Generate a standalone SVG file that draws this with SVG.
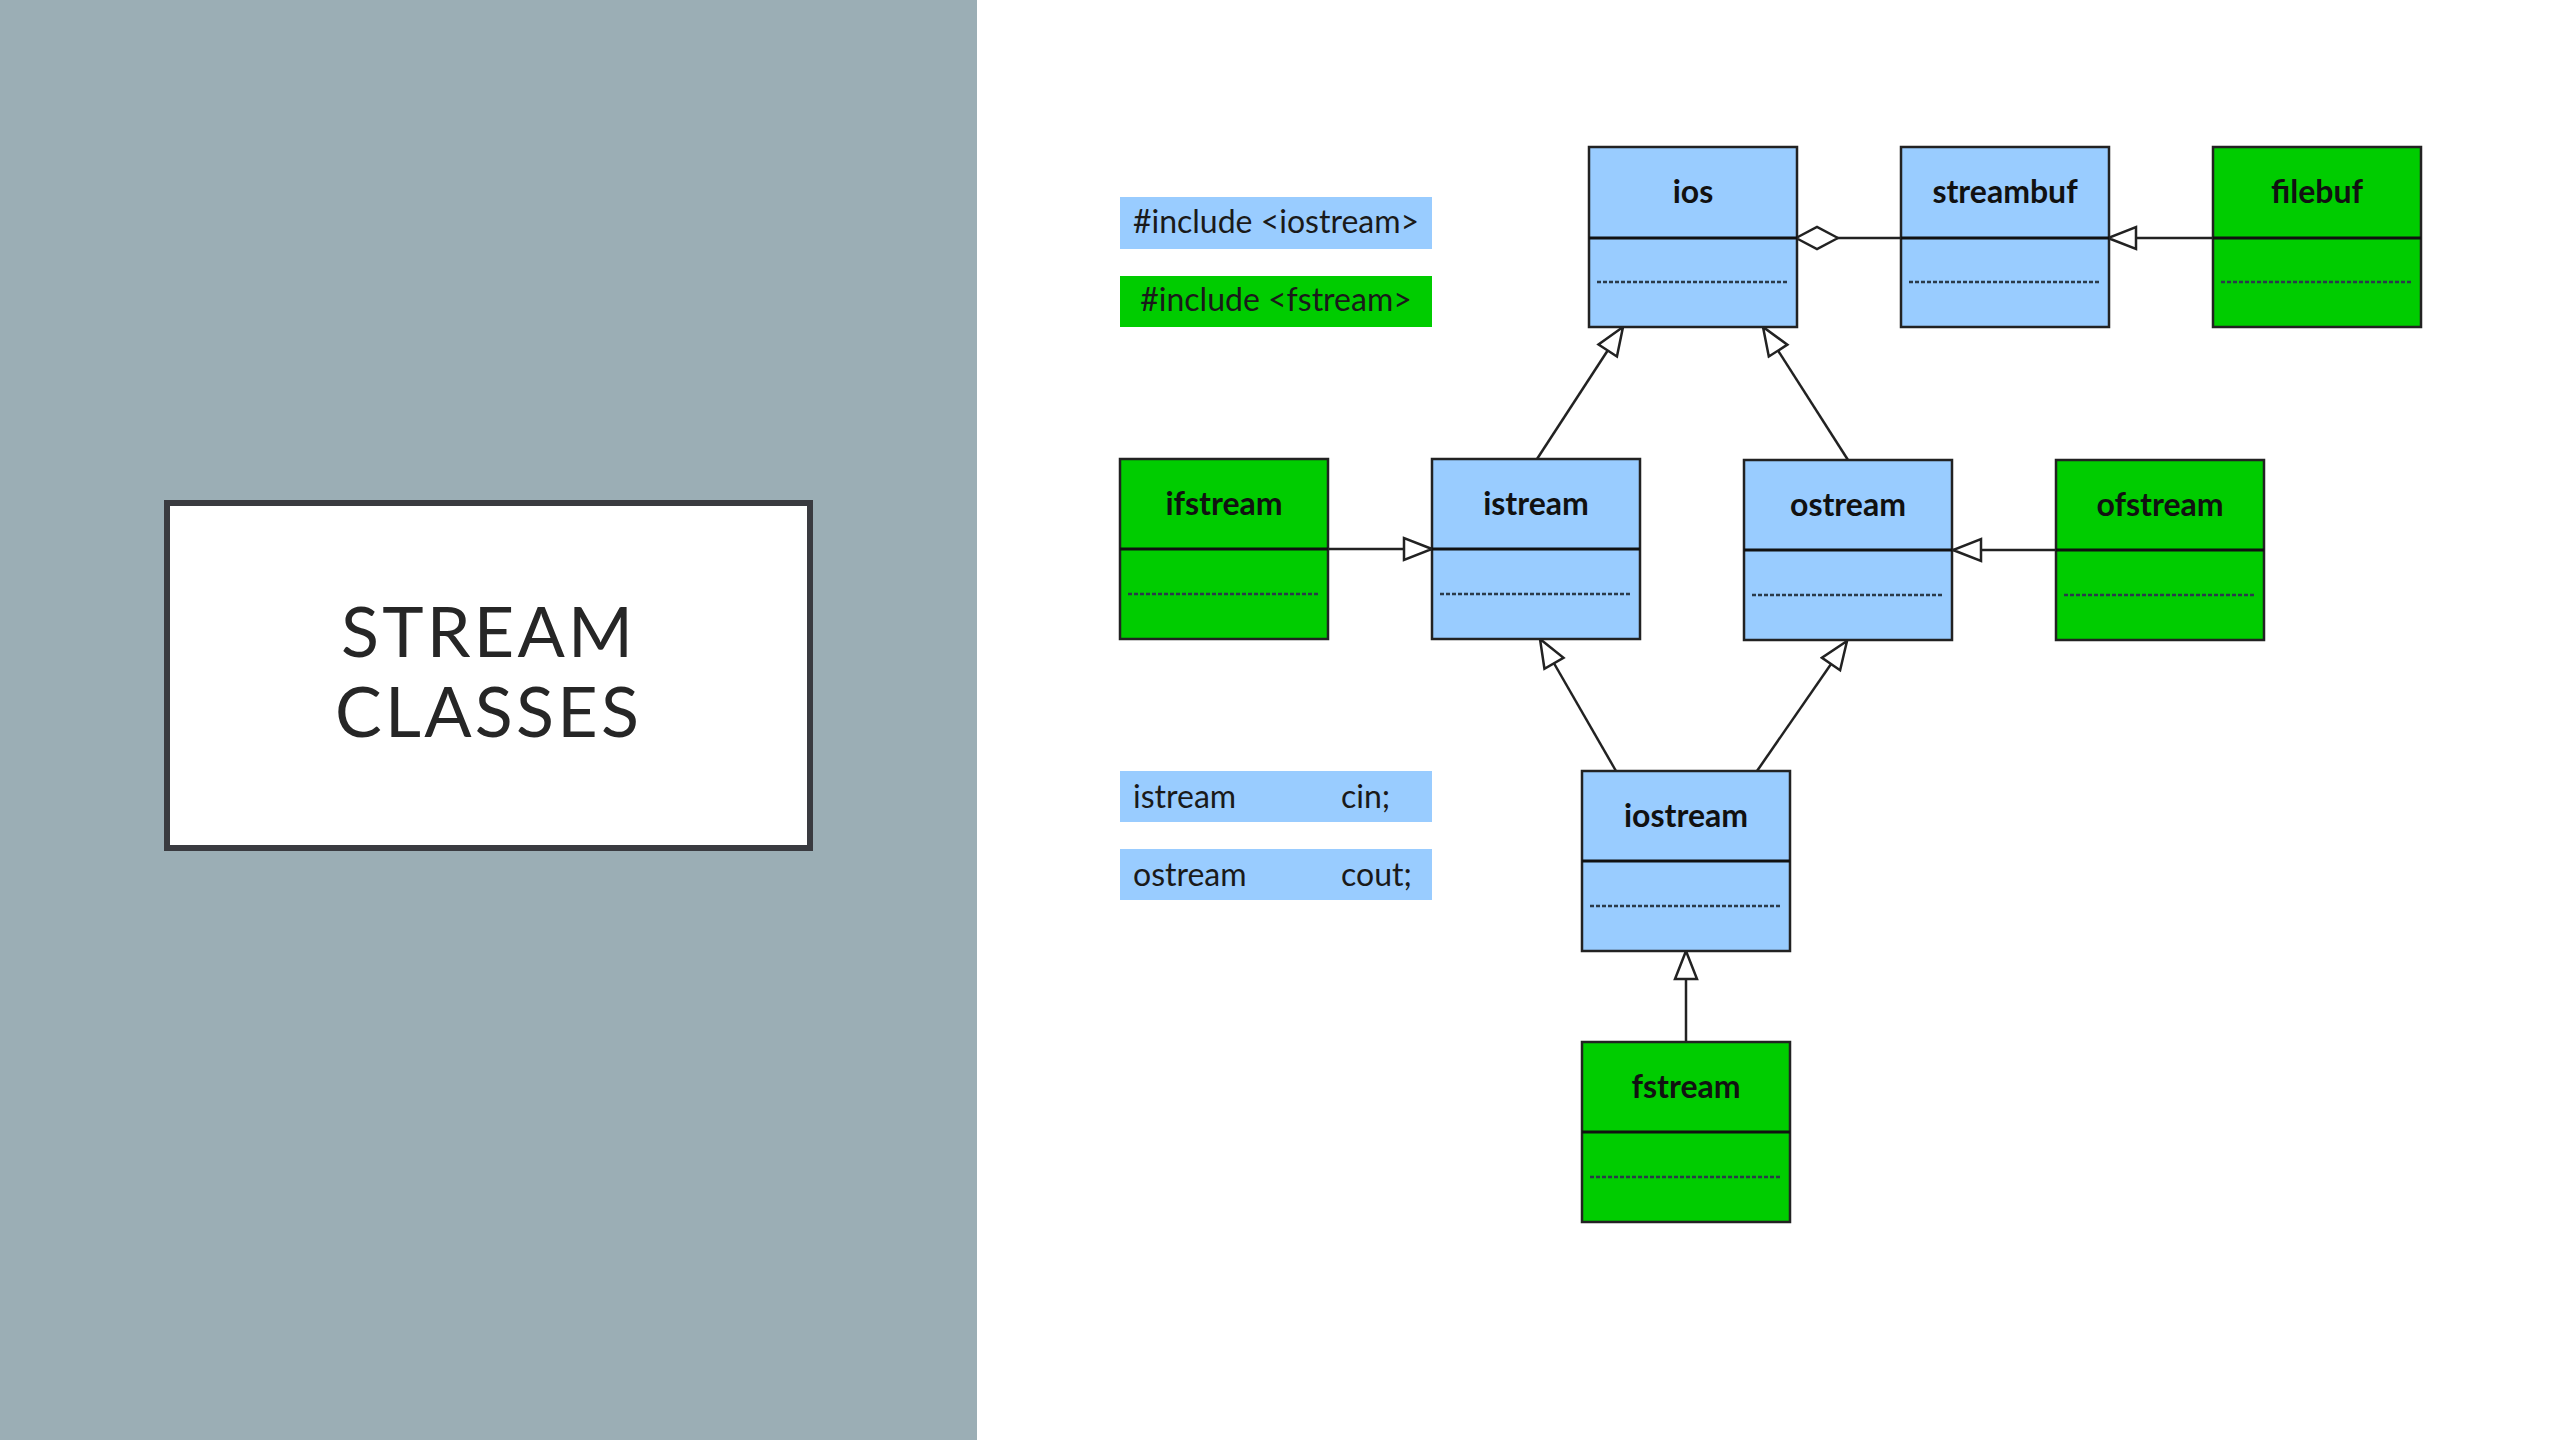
<svg xmlns="http://www.w3.org/2000/svg" width="2560" height="1440" viewBox="0 0 2560 1440">
<style>
.blue{fill:#99CCFF;stroke:#222;stroke-width:2.5}
.green{fill:#00CC00;stroke:#222;stroke-width:2.5}
.div{stroke:#111;stroke-width:3}
.dot{stroke:#2a3a4a;stroke-width:2.5;stroke-dasharray:4 2}
.lbl{font-family:Lato,"Liberation Sans",sans-serif;font-weight:bold;font-size:32px;fill:#111;text-anchor:middle}
.leg{font-family:Lato,"Liberation Sans",sans-serif;font-size:32px;fill:#1a1a1a}
.conn{stroke:#222;stroke-width:2.5;fill:none}
.title{font-family:Lato,"Open Sans","Liberation Sans",sans-serif;font-size:70px;fill:#262626;text-anchor:middle}
</style>
<defs>
<marker id="tri" viewBox="0 0 32 26" refX="30" refY="13" markerWidth="32" markerHeight="26" markerUnits="userSpaceOnUse" orient="auto">
<path d="M30,13 L2,2 L2,24 Z" fill="#fff" stroke="#222" stroke-width="2.5"/>
</marker>
<marker id="dia" viewBox="0 0 46 26" refX="2" refY="13" markerWidth="46" markerHeight="26" markerUnits="userSpaceOnUse" orient="auto">
<path d="M2,13 L23,2 L44,13 L23,24 Z" fill="#fff" stroke="#222" stroke-width="2.5"/>
</marker>
</defs>
<rect x="0" y="0" width="2560" height="1440" fill="#ffffff"/>
<rect x="0" y="0" width="977" height="1440" fill="#9BAEB5"/>
<g id="title">
<rect x="167" y="503" width="643" height="345" fill="#ffffff" stroke="#3a3b40" stroke-width="6"/>
<text class="title" x="487" y="657" textLength="292" lengthAdjust="spacing">STREAM</text>
<text class="title" x="487" y="737" textLength="304" lengthAdjust="spacing">CLASSES</text>
</g>
<g id="legend-iostream">
<rect x="1120" y="197" width="312" height="52" fill="#99CCFF"/>
<text class="leg" x="1276" y="233" text-anchor="middle">#include &lt;iostream&gt;</text>
</g>
<g id="legend-fstream">
<rect x="1120" y="276" width="312" height="51" fill="#00CC00"/>
<text class="leg" x="1276" y="311" text-anchor="middle">#include &lt;fstream&gt;</text>
</g>
<g id="legend-cin">
<rect x="1120" y="771" width="312" height="51" fill="#99CCFF"/>
<text class="leg" x="1133" y="808">istream</text>
<text class="leg" x="1341" y="808">cin;</text>
</g>
<g id="legend-cout">
<rect x="1120" y="849" width="312" height="51" fill="#99CCFF"/>
<text class="leg" x="1133" y="886">ostream</text>
<text class="leg" x="1341" y="886">cout;</text>
</g>
<g id="connectors">
<path class="conn" d="M1796,238 L1901,238" marker-start="url(#dia)"/>
<path class="conn" d="M2213,238 L2108,238" marker-end="url(#tri)"/>
<path class="conn" d="M1537,459 L1623,327" marker-end="url(#tri)"/>
<path class="conn" d="M1848,460 L1763,327" marker-end="url(#tri)"/>
<path class="conn" d="M1329,549 L1432,549" marker-end="url(#tri)"/>
<path class="conn" d="M2056,550 L1953,550" marker-end="url(#tri)"/>
<path class="conn" d="M1616,771 L1540,639" marker-end="url(#tri)"/>
<path class="conn" d="M1757,771 L1847,641" marker-end="url(#tri)"/>
<path class="conn" d="M1686,1042 L1686,951" marker-end="url(#tri)"/>
</g>
<g id="ios">
<rect class="blue" x="1589" y="147" width="208" height="180"/>
<line class="div" x1="1589" y1="238" x2="1797" y2="238"/>
<line class="dot" x1="1597" y1="282" x2="1789" y2="282"/>
<text class="lbl" x="1693" y="203">ios</text>
</g>
<g id="streambuf">
<rect class="blue" x="1901" y="147" width="208" height="180"/>
<line class="div" x1="1901" y1="238" x2="2109" y2="238"/>
<line class="dot" x1="1909" y1="282" x2="2101" y2="282"/>
<text class="lbl" x="2005" y="203">streambuf</text>
</g>
<g id="filebuf">
<rect class="green" x="2213" y="147" width="208" height="180"/>
<line class="div" x1="2213" y1="238" x2="2421" y2="238"/>
<line class="dot" x1="2221" y1="282" x2="2413" y2="282"/>
<text class="lbl" x="2317" y="203">filebuf</text>
</g>
<g id="ifstream">
<rect class="green" x="1120" y="459" width="208" height="180"/>
<line class="div" x1="1120" y1="549" x2="1328" y2="549"/>
<line class="dot" x1="1128" y1="594" x2="1320" y2="594"/>
<text class="lbl" x="1224" y="515">ifstream</text>
</g>
<g id="istream">
<rect class="blue" x="1432" y="459" width="208" height="180"/>
<line class="div" x1="1432" y1="549" x2="1640" y2="549"/>
<line class="dot" x1="1440" y1="594" x2="1632" y2="594"/>
<text class="lbl" x="1536" y="515">istream</text>
</g>
<g id="ostream">
<rect class="blue" x="1744" y="460" width="208" height="180"/>
<line class="div" x1="1744" y1="550" x2="1952" y2="550"/>
<line class="dot" x1="1752" y1="595" x2="1944" y2="595"/>
<text class="lbl" x="1848" y="516">ostream</text>
</g>
<g id="ofstream">
<rect class="green" x="2056" y="460" width="208" height="180"/>
<line class="div" x1="2056" y1="550" x2="2264" y2="550"/>
<line class="dot" x1="2064" y1="595" x2="2256" y2="595"/>
<text class="lbl" x="2160" y="516">ofstream</text>
</g>
<g id="iostream">
<rect class="blue" x="1582" y="771" width="208" height="180"/>
<line class="div" x1="1582" y1="861" x2="1790" y2="861"/>
<line class="dot" x1="1590" y1="906" x2="1782" y2="906"/>
<text class="lbl" x="1686" y="827">iostream</text>
</g>
<g id="fstream">
<rect class="green" x="1582" y="1042" width="208" height="180"/>
<line class="div" x1="1582" y1="1132" x2="1790" y2="1132"/>
<line class="dot" x1="1590" y1="1177" x2="1782" y2="1177"/>
<text class="lbl" x="1686" y="1098">fstream</text>
</g>
</svg>
